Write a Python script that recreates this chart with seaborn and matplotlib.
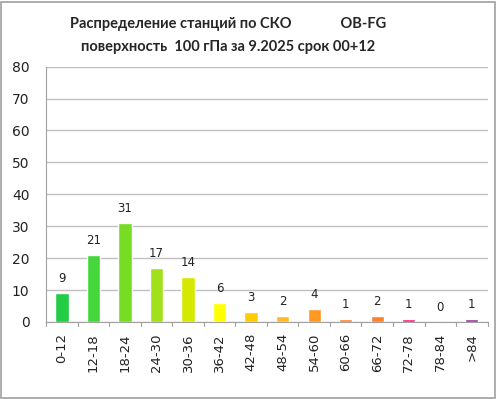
import numpy as np
import pandas as pd
import matplotlib
matplotlib.use('Agg')
import matplotlib.pyplot as plt
import seaborn as sns

# datos
categorias = ['0-12', '12-18', '18-24', '24-30', '30-36', '36-42', '42-48',
              '48-54', '54-60', '60-66', '66-72', '72-78', '78-84', '>84']
estaciones = [9, 21, 31, 17, 14, 6, 3, 2, 4, 1, 2, 1, 0, 1]
colores = ['#22cc44', '#44d63a', '#77dd22', '#a2e01c', '#d4e800', '#ffff00',
           '#ffcc00', '#ffbb22', '#ff9922', '#ff7f2a', '#ff7f2a', '#ff1a80',
           '#ffffff', '#993399']

df = pd.DataFrame({'cat': categorias, 'n': estaciones})

sns.set_style('white')
plt.rcParams['font.family'] = ['DejaVu Sans']

fig = plt.figure(figsize=(4.96, 3.99), dpi=100)
ax = fig.add_axes([0.093, 0.193, 0.89, 0.64])

sns.barplot(data=df, x='cat', y='n', hue='cat', palette=colores, legend=False,
            width=0.42, ax=ax, saturation=1, zorder=3)

ax.set_ylim(0, 80)
ax.set_xlim(-0.5, len(categorias) - 0.5)
ax.set_yticks(range(0, 81, 10))
ax.yaxis.grid(True, color='#c0c0c0', linewidth=1, zorder=0)
ax.set_xlabel('')
ax.set_ylabel('')
ax.tick_params(axis='y', labelsize=10, length=0, pad=12, colors='#222222')
ax.set_xticks(range(len(categorias)))
ax.set_xticklabels(categorias, rotation=90, fontsize=9.5, color='#222222')
ax.tick_params(axis='x', length=0, pad=8)

# marcas entre categorias
for i in range(len(categorias) + 1):
    ax.plot([i - 0.5, i - 0.5], [0, -1.2], color='#a0a0a0', lw=0.8, clip_on=False)

for s in ['top', 'right']:
    ax.spines[s].set_visible(False)
ax.spines['left'].set_color('#a0a0a0')
ax.spines['bottom'].set_color('#a0a0a0')

for i, v in enumerate(estaciones):
    ax.text(i, v + 2.5, str(v), ha='center', va='bottom', fontsize=8.5, color='#222222')

fig.text(0.46, 0.94, 'Распределение станций по СКО              OB-FG',
         ha='center', va='center', fontsize=10.5, fontweight='bold', family='Lato')
fig.text(0.46, 0.883, 'поверхность  100 гПа за 9.2025 срок 00+12',
         ha='center', va='center', fontsize=10.5, fontweight='bold', family='Lato')

# borde exterior
fig.patches.append(plt.Rectangle((0.002, 0.003), 0.995, 0.993, transform=fig.transFigure,
                                 fill=False, edgecolor='#a0a0a0', lw=1.2))

fig.savefig('out.png', dpi=100)
plt.close()
